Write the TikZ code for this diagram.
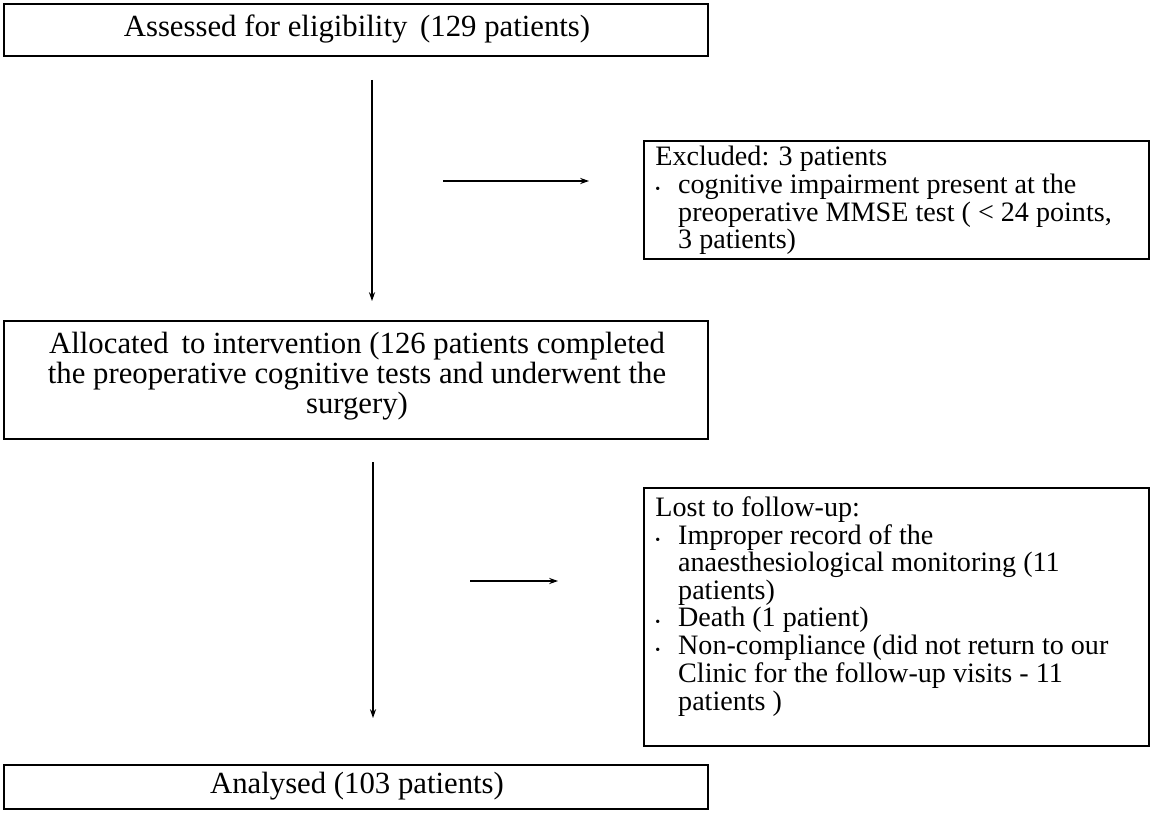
\documentclass[tikz,border=0pt]{standalone}
\usepackage{fontspec}
\usetikzlibrary{arrows.meta}
\setmainfont{Liberation Serif}
\begin{document}
\begin{tikzpicture}[x=0.02cm,y=-0.02cm,
  box/.style={draw,line width=0.9pt,inner sep=0pt,anchor=north west},
  big/.style={font=\fontsize{17.5}{17}\selectfont,align=center},
  small/.style={font=\fontsize{16}{15.4}\selectfont,anchor=north west,inner sep=0pt},
  arr/.style={-{Stealth[length=5pt,width=3.5pt]},line width=0.7pt}]
\useasboundingbox (0,0) rectangle (1166,814);
\node[box,minimum width=704*0.02cm,minimum height=52*0.02cm] (b1) at (3,3) {};
\node[big] (t1) at (357,29) {Assessed for eligibility\, (129 patients)};
\node[box,minimum width=505*0.02cm,minimum height=118*0.02cm] (b2) at (643,140) {};
\node[small] (t2) at (655,146) {\begin{tabular}{@{}p{9pt}@{\hspace{4pt}}l@{}}
\multicolumn{2}{@{}l}{Excluded: 3 patients}\\
{\footnotesize\textbullet} & cognitive impairment present at the\\
 & preoperative MMSE test ( < 24 points,\\
 & 3 patients)\end{tabular}};
\node[box,minimum width=704*0.02cm,minimum height=118*0.02cm] (b3) at (3,320) {};
\node[big] (t3) at (357,376) {Allocated\, to intervention (126 patients completed\\the preoperative cognitive tests and underwent the\\surgery)};
\node[box,minimum width=505*0.02cm,minimum height=258*0.02cm] (b4) at (643,487) {};
\node[small] (t4) at (655,496) {\begin{tabular}{@{}p{9pt}@{\hspace{4pt}}l@{}}
\multicolumn{2}{@{}l}{Lost to follow-up:}\\
{\footnotesize\textbullet} & Improper record of the\\
 & anaesthesiological monitoring (11\\
 & patients)\\
{\footnotesize\textbullet} & Death (1 patient)\\
{\footnotesize\textbullet} & Non-compliance (did not return to our\\
 & Clinic for the follow-up visits - 11\\
 & patients )\end{tabular}};
\node[box,minimum width=704*0.02cm,minimum height=44*0.02cm] (b5) at (3,764) {};
\node[big] (t5) at (357,786) {Analysed (103 patients)};
\coordinate (a1s) at (372,80); \coordinate (a1e) at (372,301);
\coordinate (a2s) at (373,462); \coordinate (a2e) at (373,718);
\coordinate (h1s) at (443,181); \coordinate (h1e) at (589,181);
\coordinate (h2s) at (470,581); \coordinate (h2e) at (558,581);
\draw[arr] (a1s) -- (a1e);
\draw[arr] (a2s) -- (a2e);
\draw[arr] (h1s) -- (h1e);
\draw[arr] (h2s) -- (h2e);
\end{tikzpicture}
\end{document}
